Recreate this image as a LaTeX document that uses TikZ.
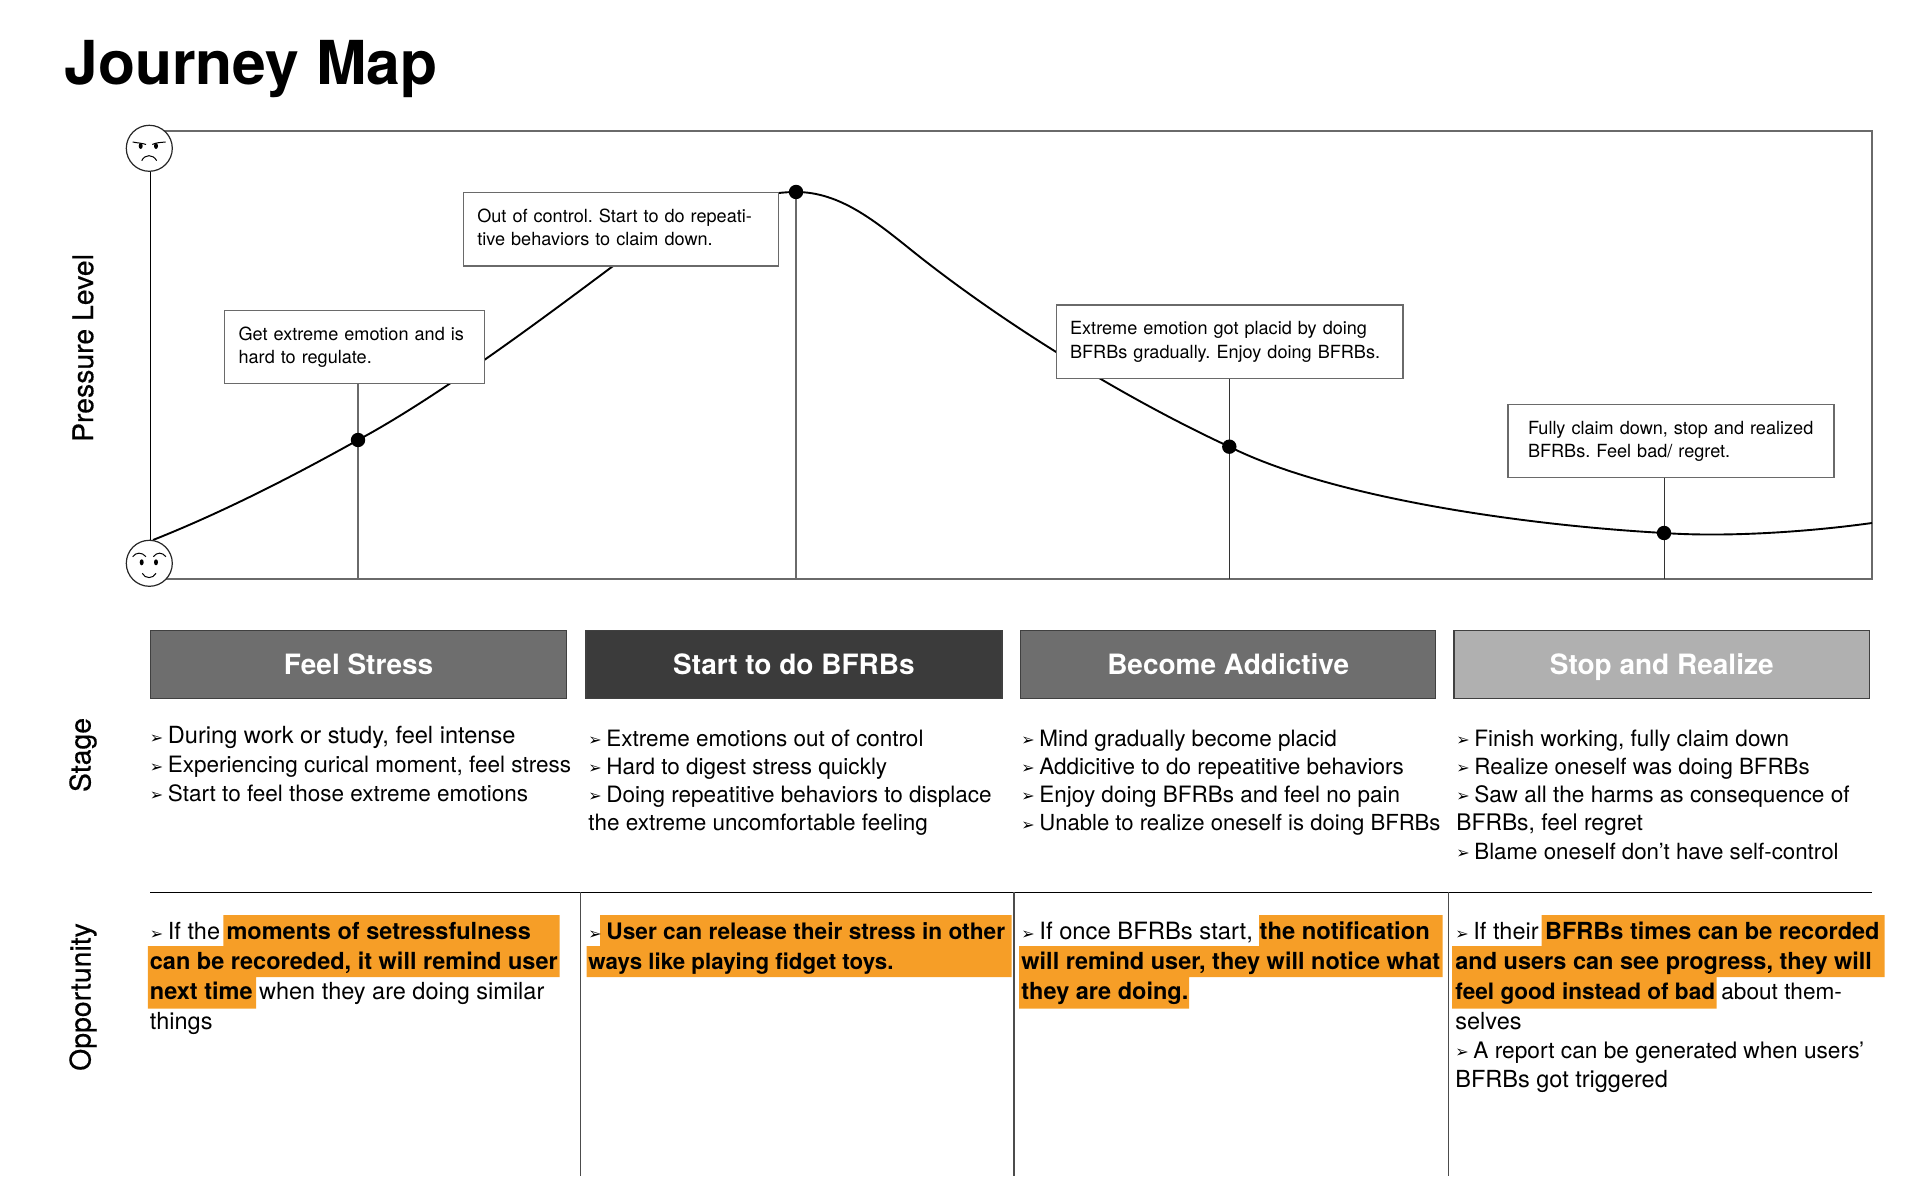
\documentclass[tikz,border=0pt]{standalone}
\usepackage{fontspec}
\setmainfont{TeX Gyre Heros}
\newfontfamily\symfont{DejaVu Sans}
\newfontfamily\medfont[RawFeature={embolden=.5}]{TeX Gyre Heros}
\frenchspacing
\definecolor{hilite}{HTML}{F69E27}
\definecolor{framegray}{HTML}{6A6A6A}
\newcommand{\bul}{\makebox[9pt][l]{\symfont\fontsize{8}{8}\selectfont\raisebox{.2pt}{➢}}}
\tikzset{
	callout/.style={draw=framegray,fill=white,line width=.6pt,align=left,inner xsep=7pt,inner sep=0pt,
		anchor=north west,text height=6.9pt,text depth=13.6pt,minimum height=36.6pt,font=\fontsize{9.05}{11.6}\selectfont},
	stagehead/.style={draw=black!75,line width=.6pt,text=white,anchor=north west,inner sep=0pt,
		minimum height=34.2pt,text height=10pt,text depth=0pt,font=\fontsize{14}{16}\selectfont\bfseries},
	bodyline/.style={anchor=base west,inner sep=0pt,font=\fontsize{#1}{14}\selectfont},
	bodyline/.default=11.25,
	sidelabel/.style={rotate=90,inner sep=0pt,font=\medfont\fontsize{14.2}{17}\selectfont},
	dotnode/.style={circle,fill=black,inner sep=0pt,minimum size=7.2pt},
	facenode/.style={circle,draw=black!85,fill=white,line width=.6pt,inner sep=0pt,minimum size=23pt},
	hilitebar/.style={fill=hilite}
}
\begin{document}
\begin{tikzpicture}[x=.5pt,y=-.5pt]
	\useasboundingbox (0,0) rectangle (1920,1181);
	\path node (title) at (64,85) [anchor=base west,inner sep=0pt,font=\fontsize{30.3}{36}\selectfont\bfseries] {Journey Map};
	\path node (pressurelabel) at (83,348) [sidelabel] {Pressure Level}
		  node (stagelabel) at (83,755) [sidelabel] {Stage}
		  node (opportunitylabel) at (83,997) [sidelabel] {Opportunity};
	% chart
	\coordinate (framenw) at (150.5,131);
	\coordinate (framese) at (1872,579);
	\coordinate (curvestart) at (153,540);
	\coordinate (stresspt) at (358,440);
	\coordinate (risept) at (613.5,265.7);
	\coordinate (peakpt) at (796,192);
	\coordinate (midfall) at (913.3,251.7);
	\coordinate (addictpt) at (1229.3,446.7);
	\coordinate (realizept) at (1664,533);
	\coordinate (curveend) at (1872,523);
	\draw [framegray,line width=.6pt] (framenw) rectangle (framese);
	\draw [black,line width=.95pt] (curvestart) .. controls (221,513) and (290,478) .. (stresspt)
		.. controls (440,396) and (550,313) .. (risept)
		.. controls (680,216) and (750,192) .. (peakpt)
		.. controls (840,192) and (875,221) .. (midfall)
		.. controls (1000,321) and (1120,396) .. (addictpt)
		.. controls (1330,497) and (1520,525) .. (realizept)
		.. controls (1720,537) and (1800,533) .. (curveend);
	\node (stressbox) at (224,310) [callout,minimum width=130pt,text width=116pt] {Get extreme emotion and is\\hard to regulate.};
	\node (peakbox) at (462.7,192.3) [callout,minimum width=157.5pt,text width=143.5pt] {Out of control. Start to do repeati-\\tive behaviors to claim down.};
	\node (addictbox) at (1055.5,304.5) [callout,minimum width=173.4pt,text width=159.4pt] {Extreme emotion got placid by doing\\BFRBs gradually. Enjoy doing BFRBs.};
	\node (realizebox) at (1507.4,404) [callout,minimum width=163pt,text width=149pt] {\hspace{3pt}Fully claim down, stop and realized\\\hspace{3pt}BFRBs. Feel bad/ regret.};
	\draw [framegray,line width=.6pt] (stressbox.south -| stresspt) -- (stresspt |- framese);
	\draw [framegray,line width=.7pt] (peakpt) -- (peakpt |- framese);
	\draw [black!80,line width=.5pt] (addictbox.south -| addictpt) -- (addictpt |- framese);
	\draw [black!80,line width=.5pt] (realizebox.south -| realizept) -- (realizept |- framese);
	\node (stressdot) at (stresspt) [dotnode] {};
	\node (peakdot) at (peakpt) [dotnode] {};
	\node (addictdot) at (addictpt) [dotnode] {};
	\node (realizedot) at (realizept) [dotnode] {};
	% faces
	\path node (angryface) at (149.3,148.3) [facenode] {}
		  node (calmface) at (149.3,563.3) [facenode] {};
	\draw [black,line width=.6pt] (angryface.south -| framenw) -- (calmface.north -| framenw);
	\fill (140.7,146) ellipse (1pt and 1.5pt) (156,146) ellipse (1pt and 1.5pt);
	\draw [line width=.5pt] (132.7,142) .. controls (137,143) and (142,143) .. (146,144.5);
	\draw [line width=.5pt] (152.3,144.5) .. controls (156,142.5) and (161,142.5) .. (165.7,142);
	\draw [line width=.5pt] (141.7,160.7) .. controls (145,154) and (153,154) .. (156.7,160.7);
	\fill (141.7,562.3) ellipse (1pt and 1.5pt) (156,562.3) ellipse (1pt and 1.5pt);
	\draw [line width=.5pt] (132.7,556.7) .. controls (136,552) and (142,552) .. (146,556.7);
	\draw [line width=.5pt] (153.3,556.7) .. controls (157,552) and (162,552) .. (166,556.7);
	\draw [line width=.5pt] (142.3,573.3) .. controls (145,579) and (153,579) .. (156,573.3);
	% stages
	\node (headone) at (150,629.7) [stagehead,fill=black!57,minimum width=208pt] {Feel Stress};
	\node (headtwo) at (585.3,629.7) [stagehead,fill=black!77,minimum width=208pt] {Start to do BFRBs};
	\node (headthree) at (1020,629.7) [stagehead,fill=black!57,minimum width=207.6pt] {Become Addictive};
	\node (headfour) at (1453.3,629.7) [stagehead,fill=black!31,minimum width=207.8pt] {Stop and Realize};
	\path node (stonea) at (149.5,743.6) [bodyline=11.8] {\bul During work or study, feel intense}
		  node (stoneb) at (149.5,772.5) [bodyline] {\bul Experiencing curical moment, feel stress}
		  node (stonec) at (149.5,801) [bodyline] {\bul Start to feel those extreme emotions};
	\path node (sttwoa) at (588,746) [bodyline] {\bul Extreme emotions out of control}
		  node (sttwob) at (588,774) [bodyline] {\bul Hard to digest stress quickly}
		  node (sttwoc) at (588,802) [bodyline] {\bul Doing repeatitive behaviors to displace}
		  node (sttwod) at (588,830.7) [bodyline] {the extreme uncomfortable feeling};
	\path node (stthreea) at (1021,746) [bodyline] {\bul Mind gradually become placid}
		  node (stthreeb) at (1021,774) [bodyline] {\bul Addicitive to do repeatitive behaviors}
		  node (stthreec) at (1021,802) [bodyline] {\bul Enjoy doing BFRBs and feel no pain}
		  node (stthreed) at (1021,830.7) [bodyline=11.05] {\bul Unable to realize oneself is doing BFRBs};
	\path node (stfoura) at (1456,746) [bodyline] {\bul Finish working, fully claim down}
		  node (stfourb) at (1456,774) [bodyline=11.15] {\bul Realize oneself was doing BFRBs}
		  node (stfourc) at (1456,802) [bodyline=11.3] {\bul Saw all the harms as consequence of}
		  node (stfourd) at (1456,830.7) [bodyline=11.4] {BFRBs, feel regret}
		  node (stfoure) at (1456,859) [bodyline=11.15] {\bul Blame oneself don’t have self-control};
	% opportunity
	\coordinate (ruleleft) at (150,892.3);
	\coordinate (ruleright) at (1872,892.3);
	\draw [black,line width=.6pt] (ruleleft) -- (ruleright);
	\draw [black!70,line width=.6pt] (580.4,892.3) -- (580.4,1175.5);
	\draw [black!70,line width=.6pt] (1014,892.3) -- (1014,1175.5);
	\draw [black!70,line width=.6pt] (1448.6,892.3) -- (1448.6,1175.5);
	\fill [hilitebar] (223.3,915) rectangle (559.7,946) (147.8,946) rectangle (559.7,977) (147.8,977) rectangle (256,1008.7);
	\fill [hilitebar] (600,915) rectangle (1011.5,946) (586.5,946) rectangle (1011.5,977);
	\fill [hilitebar] (1259,915) rectangle (1442.5,946) (1019,946) rectangle (1442.5,977) (1019,977) rectangle (1189,1008.7);
	\fill [hilitebar] (1541.6,915) rectangle (1884.5,946) (1452,946) rectangle (1884.5,977) (1452,977) rectangle (1716.7,1008.7);
	\path node (oponea) at (149.5,939.6) [bodyline=11.75] {\bul If the \textbf{moments of setressfulness}}
		  node (oponeb) at (149.5,969.6) [bodyline=11.75] {\textbf{can be recoreded, it will remind user}}
		  node (oponec) at (149.5,999.6) [bodyline=11.75] {\textbf{next time} when they are doing similar}
		  node (oponed) at (149.5,1029) [bodyline=11.75] {things};
	\path node (optwoa) at (588,939.6) [bodyline=11.35] {\bul \textbf{User can release their stress in other}}
		  node (optwob) at (588,969.6) [bodyline=11.15] {\textbf{ways like playing fidget toys.}};
	\path node (opthreea) at (1021,939.6) [bodyline=11.9] {\bul If once BFRBs start, \textbf{the notification}}
		  node (opthreeb) at (1021,969.6) [bodyline=11.75] {\textbf{will remind user, they will notice what}}
		  node (opthreec) at (1021,999.6) [bodyline=11.75] {\textbf{they are doing.}};
	\path node (opfoura) at (1455,939.6) [bodyline=11.75] {\bul If their \textbf{BFRBs times can be recorded}}
		  node (opfourb) at (1455,969.6) [bodyline=11.75] {\textbf{and users can see progress, they will}}
		  node (opfourc) at (1455,999.6) [bodyline=11.3] {\textbf{feel good instead of bad} about them-}
		  node (opfourd) at (1455,1029) [bodyline=11.75] {selves}
		  node (opfoure) at (1455,1058) [bodyline=11.35] {\bul A report can be generated when users’}
		  node (opfourf) at (1455,1087) [bodyline=11.75] {BFRBs got triggered};
\end{tikzpicture}
\end{document}
